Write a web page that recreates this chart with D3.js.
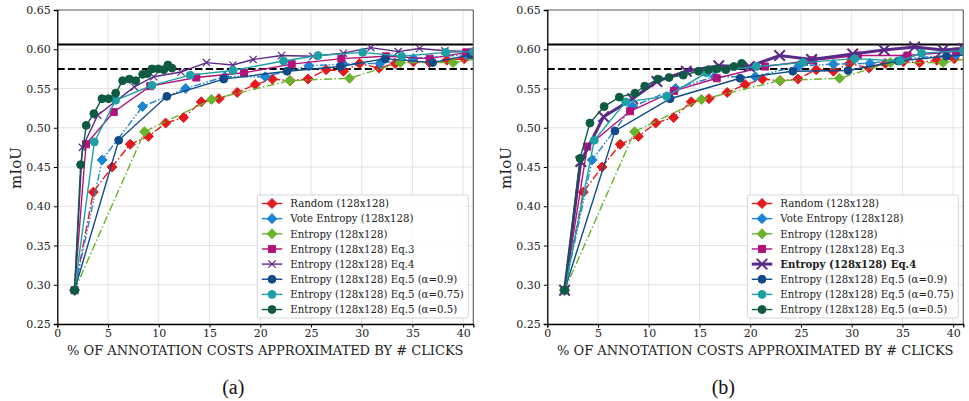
<!DOCTYPE html>
<html>
<head>
<meta charset="utf-8">
<script src="https://cdn.jsdelivr.net/npm/d3@7"></script>
<style>
  body { margin: 0; background: #fff; }
  svg { display: block; }
</style>
</head>
<body>
<div id="chart"></div>
<script>
// series values, [x, mIoU]
let randomPts = [[1.7,0.293],[3.55,0.418],[5.39,0.450],[7.19,0.479],[8.97,0.489],[10.68,0.506],[12.45,0.513],[14.19,0.533],[15.93,0.537],[17.73,0.545],[19.5,0.555],[21.2,0.562],[22.95,0.560],[24.7,0.562],[26.5,0.574],[28.2,0.572],[29.8,0.582],[31.7,0.576],[33.3,0.582],[35.1,0.584],[36.7,0.583],[38.4,0.586],[40.1,0.588]];
let votePts = [[1.7,0.293],[4.42,0.459],[8.4,0.527],[12.65,0.550],[16.5,0.565],[20.5,0.565],[24.8,0.579],[28.2,0.581],[31.8,0.582],[35.1,0.588],[40.3,0.593]];
let entropyPts = [[1.7,0.293],[8.6,0.495],[15.2,0.536],[22.9,0.560],[28.8,0.563],[33.8,0.583],[39.0,0.583],[41.5,0.588]];

let eq3A = [[1.7,0.293],[2.83,0.479],[5.56,0.520],[9.16,0.553],[13.7,0.564],[18.4,0.570],[23.1,0.581],[28.0,0.588],[32.4,0.591],[36.7,0.588],[40.3,0.596]];
let eq4A = [[1.7,0.293],[2.47,0.475],[3.98,0.516],[7.59,0.552],[9.5,0.565],[12.2,0.571],[14.7,0.583],[17.3,0.580],[19.3,0.587],[22.1,0.592],[25.2,0.591],[28.2,0.595],[30.9,0.602],[33.6,0.597],[35.7,0.601],[38.2,0.598],[41.0,0.597]];
let eq5a09A = [[1.7,0.293],[6.05,0.484],[10.8,0.540],[16.4,0.562],[22.65,0.572],[27.9,0.578],[32.3,0.588],[37.0,0.583],[40.8,0.593]];
let eq5a075A = [[1.7,0.293],[3.65,0.482],[5.75,0.535],[9.33,0.554],[13.1,0.567],[17.3,0.573],[22.3,0.585],[25.7,0.592],[30.1,0.596],[33.95,0.591],[38.3,0.596],[41.0,0.597]];
let eq5a05A = [[1.7,0.293],[2.3,0.453],[2.85,0.503],[3.6,0.518],[4.4,0.537],[5.05,0.537],[5.75,0.544],[6.44,0.560],[7.1,0.562],[7.74,0.560],[8.41,0.568],[8.9,0.569],[9.33,0.575],[9.95,0.575],[10.5,0.574],[10.9,0.580],[11.3,0.576]];

let eq3B = [[1.7,0.293],[3.94,0.476],[8.15,0.521],[12.5,0.547],[16.7,0.563],[21.45,0.578],[26.2,0.586],[30.6,0.592],[35.5,0.592],[40.3,0.597]];
let eq4B = [[1.7,0.293],[3.3,0.457],[5.55,0.514],[8.4,0.537],[10.8,0.559],[13.7,0.572],[16.9,0.579],[19.9,0.578],[22.9,0.592],[26.05,0.587],[30.1,0.594],[33.2,0.599],[36.2,0.603],[39.0,0.599],[41.0,0.601]];
let eq5a09B = [[1.7,0.293],[6.67,0.496],[12.1,0.537],[19.0,0.563],[24.2,0.572],[29.65,0.573],[34.6,0.585],[39.35,0.591],[41.5,0.593]];
let eq5a075B = [[1.7,0.293],[4.63,0.484],[7.72,0.533],[11.76,0.540],[15.7,0.570],[20.6,0.578],[25.2,0.583],[30.3,0.588],[34.75,0.585],[36.9,0.595],[41.0,0.598]];
let eq5a05B = [[1.7,0.293],[3.22,0.461],[4.2,0.506],[5.6,0.527],[7.1,0.539],[8.64,0.544],[9.6,0.553],[10.9,0.562],[12.0,0.564],[13.4,0.567],[14.9,0.572],[15.9,0.574],[16.7,0.575],[17.6,0.574],[18.4,0.578],[19.15,0.582]];

let seriesNames = ["Random (128x128)", "Vote Entropy (128x128)", "Entropy (128x128)", "Entropy (128x128) Eq.3",
    "Entropy (128x128) Eq.4", "Entropy (128x128) Eq.5 (\u03b1=0.9)", "Entropy (128x128) Eq.5 (\u03b1=0.75)", "Entropy (128x128) Eq.5 (\u03b1=0.5)"];
let upperRef = 0.606, lowerRef = 0.575;
let xTicks = [0,5,10,15,20,25,30,35,40];
let yTicks = [0.25,0.30,0.35,0.40,0.45,0.50,0.55,0.60,0.65];
let captions = ["(a)", "(b)"];

let styles = [
    {color:"#e31a1c", marker:"D", dash:"8,2.5,1.5,2.5"},
    {color:"#1c84d1", marker:"D", dash:"7,2,1.5,2,1.5,2"},
    {color:"#6ab42d", marker:"D", dash:"8,2.5,1.5,2.5"},
    {color:"#b1137b", marker:"s", dash:null},
    {color:"#5a2a88", marker:"x", dash:null},
    {color:"#104a86", marker:"o", dash:null},
    {color:"#1d9fa6", marker:"o", dash:null},
    {color:"#0e5a42", marker:"o", dash:null}
];

let W = 969, H = 401;
let svg = d3.select("#chart").append("svg").attr("width", W).attr("height", H);

function markerPath(type, s) {
    if (type === "D") return "M0," + (-s) + "L" + s + ",0L0," + s + "L" + (-s) + ",0Z";
    if (type === "s") { let h = s * 0.8; return "M" + (-h) + "," + (-h) + "H" + h + "V" + h + "H" + (-h) + "Z"; }
    if (type === "x") { let h = s * 0.75; return "M" + (-h) + "," + (-h) + "L" + h + "," + h + "M" + (-h) + "," + h + "L" + h + "," + (-h); }
    return d3.symbol(d3.symbolCircle, Math.PI * s * s * 0.8)();
}

function renderPanel(left, right, sets, boldEq4, idx) {
    let top = 10, bottom = 324;
    let x = d3.scaleLinear().domain([0, 41]).range([left, right]);
    let y = d3.scaleLinear().domain([0.25, 0.65]).range([bottom, top]);

    svg.append("clipPath").attr("id", "clip" + idx)
        .append("rect").attr("x", left).attr("y", top).attr("width", right - left).attr("height", bottom - top);

    let g = svg.append("g");

    // grid
    g.append("g").selectAll("line").data(xTicks).enter().append("line")
        .attr("x1", d => x(d)).attr("x2", d => x(d)).attr("y1", top).attr("y2", bottom)
        .attr("stroke", "#e3e3e3").attr("stroke-width", 1);
    g.append("g").selectAll("line").data(yTicks).enter().append("line")
        .attr("x1", left).attr("x2", right).attr("y1", d => y(d)).attr("y2", d => y(d))
        .attr("stroke", "#e3e3e3").attr("stroke-width", 1);

    let plot = g.append("g").attr("clip-path", "url(#clip" + idx + ")");

    // reference lines
    plot.append("line").attr("x1", left).attr("x2", right).attr("y1", y(upperRef)).attr("y2", y(upperRef))
        .attr("stroke", "#000").attr("stroke-width", 2);
    plot.append("line").attr("x1", left).attr("x2", right).attr("y1", y(lowerRef)).attr("y2", y(lowerRef))
        .attr("stroke", "#000").attr("stroke-width", 2).attr("stroke-dasharray", "7.4,3.2");

    let line = d3.line().x(d => x(d[0])).y(d => y(d[1]));

    sets.forEach(function (pts, i) {
        let st = styles[i];
        let thick = boldEq4 && i === 4;
        plot.append("path").datum(pts)
            .attr("d", line).attr("fill", "none")
            .attr("stroke", st.color).attr("stroke-width", thick ? 3 : 1.4)
            .attr("stroke-dasharray", st.dash);
        let size = st.marker === "D" ? 5 : (st.marker === "x" ? (thick ? 7 : 4.8) : 4.4);
        plot.append("g").selectAll("path").data(pts).enter().append("path")
            .attr("transform", d => "translate(" + x(d[0]) + "," + y(d[1]) + ")")
            .attr("d", markerPath(st.marker, size))
            .attr("fill", st.marker === "x" ? "none" : st.color)
            .attr("stroke", st.color)
            .attr("stroke-width", st.marker === "x" ? (thick ? 2 : 1.2) : 1);
    });

    // spines
    g.append("line").attr("x1", left).attr("x2", right).attr("y1", top).attr("y2", top).attr("stroke", "#666").attr("stroke-width", 1.2);
    g.append("line").attr("x1", right).attr("x2", right).attr("y1", top).attr("y2", bottom).attr("stroke", "#666").attr("stroke-width", 1.2);

    let xAxis = g.append("g").attr("transform", "translate(0," + bottom + ")")
        .call(d3.axisBottom(x).tickValues(xTicks).tickSize(3.5).tickPadding(2).tickFormat(d3.format("d")));
    let yAxis = g.append("g").attr("transform", "translate(" + left + ",0)")
        .call(d3.axisLeft(y).tickValues(yTicks).tickSize(3.5).tickPadding(3).tickFormat(d3.format(".2f")));
    [xAxis, yAxis].forEach(function (ax) {
        ax.select(".domain").attr("stroke", "#000").attr("stroke-width", 1.3);
        ax.selectAll(".tick line").attr("stroke", "#000").attr("stroke-width", 1);
        ax.selectAll("text").attr("font-family", "DejaVu Serif").attr("font-size", 11).attr("fill", "#222");
    });

    g.append("text").attr("x", (left + right) / 2).attr("y", 355)
        .attr("text-anchor", "middle").attr("font-family", "DejaVu Serif").attr("font-size", 13).attr("fill", "#222")
        .text("% OF ANNOTATION COSTS APPROXIMATED BY # CLICKS");
    g.append("text").attr("transform", "translate(" + (left - 36) + "," + ((top + bottom) / 2 + 1) + ") rotate(-90)")
        .attr("text-anchor", "middle").attr("font-family", "DejaVu Serif").attr("font-size", 15).attr("fill", "#222")
        .text("mIoU");

    // legend
    let lx = left + 200, ly = 195, lw = right - 5 - lx, lh = 123;
    g.append("rect").attr("x", lx).attr("y", ly).attr("width", lw).attr("height", lh)
        .attr("rx", 2).attr("fill", "#fff").attr("fill-opacity", 0.85).attr("stroke", "#d5d5d5").attr("stroke-width", 1);
    seriesNames.forEach(function (name, i) {
        let st = styles[i];
        let thick = boldEq4 && i === 4;
        let cy = ly + 8.5 + i * 15.15;
        g.append("line").attr("x1", lx + 4.5).attr("x2", lx + 25).attr("y1", cy).attr("y2", cy)
            .attr("stroke", st.color).attr("stroke-width", thick ? 3 : 1.4);
        let size = st.marker === "D" ? 5 : (st.marker === "x" ? (thick ? 7 : 4.8) : 4.4);
        g.append("path").attr("transform", "translate(" + (lx + 14.7) + "," + cy + ")")
            .attr("d", markerPath(st.marker, size))
            .attr("fill", st.marker === "x" ? "none" : st.color).attr("stroke", st.color)
            .attr("stroke-width", st.marker === "x" ? (thick ? 2 : 1.2) : 1);
        g.append("text").attr("x", lx + 33).attr("y", cy + 3.8)
            .attr("font-family", "DejaVu Serif").attr("font-size", 10.2).attr("fill", "#222")
            .attr("font-weight", thick ? "bold" : "normal")
            .text(name);
    });

    svg.append("text").attr("x", (left + right) / 2 - 32).attr("y", 394)
        .attr("text-anchor", "middle").attr("font-family", "Liberation Serif").attr("font-size", 20).attr("fill", "#111")
        .text(captions[idx]);
}

renderPanel(57.3, 473.3, [randomPts, votePts, entropyPts, eq3A, eq4A, eq5a09A, eq5a075A, eq5a05A], false, 0);
renderPanel(547.3, 963.3, [randomPts, votePts, entropyPts, eq3B, eq4B, eq5a09B, eq5a075B, eq5a05B], true, 1);
</script>
</body>
</html>
